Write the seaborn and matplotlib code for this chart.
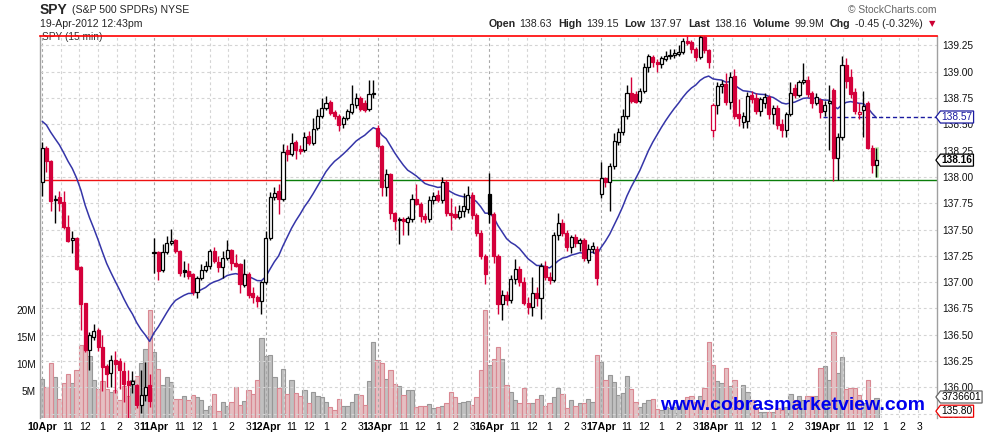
import numpy as np
import pandas as pd
import matplotlib
matplotlib.use("Agg")
import matplotlib.pyplot as plt
import seaborn as sns
from matplotlib.path import Path
from matplotlib.transforms import blended_transform_factory

# ---------------- data ----------------
day_names = ["10Apr", "11Apr", "12Apr", "13Apr", "16Apr", "17Apr", "18Apr", "19Apr"]
hour_labels = ["11", "12", "1", "2", "3"]
hour_bar_offsets = [6, 10, 14, 18, 22]
bars_per_day = 26

prior_close = 137.90      # close of the bar before the window (colours the first bar)
ema_seed = 138.556        # moving-average level entering the window
ma_span = 20

# [open, high, low, close] per 15-min bar
apr10_ohlc = [
    [137.95, 138.33, 137.82, 138.28], [138.28, 138.29, 138.05, 138.15], [138.15, 138.16, 137.68, 137.77],
    [137.78, 137.83, 137.56, 137.79], [137.81, 137.87, 137.68, 137.75], [137.76, 137.87, 137.51, 137.52],
    [137.52, 137.64, 137.38, 137.39], [137.40, 137.49, 137.28, 137.42], [137.42, 137.43, 137.12, 137.13],
    [137.14, 137.15, 136.55, 136.79], [136.80, 136.80, 136.34, 136.36], [136.36, 136.53, 136.17, 136.50],
    [136.48, 136.60, 136.45, 136.54], [136.55, 136.56, 136.35, 136.38], [136.38, 136.50, 135.97, 136.19],
    [136.20, 136.22, 136.00, 136.13], [136.14, 136.31, 136.00, 136.26], [136.26, 136.35, 135.95, 136.22],
    [136.25, 136.28, 135.98, 136.17], [136.16, 136.24, 135.86, 136.03], [136.06, 136.17, 135.71, 136.02],
    [136.03, 136.16, 135.95, 136.06], [136.02, 136.03, 135.80, 135.83], [135.83, 136.17, 135.76, 135.93],
    [135.93, 136.24, 135.87, 136.00], [136.02, 136.13, 135.81, 135.87]]
apr11_ohlc = [
    [137.28, 137.42, 137.09, 137.29], [137.29, 137.30, 137.02, 137.11], [137.12, 137.36, 137.10, 137.29],
    [137.29, 137.44, 137.27, 137.37], [137.37, 137.51, 137.35, 137.39], [137.40, 137.41, 137.28, 137.30],
    [137.30, 137.31, 137.06, 137.09], [137.12, 137.20, 137.05, 137.10], [137.11, 137.18, 137.03, 137.06],
    [137.08, 137.09, 136.88, 136.91], [136.91, 137.06, 136.85, 137.04], [137.04, 137.17, 137.02, 137.12],
    [137.12, 137.20, 137.10, 137.15], [137.15, 137.32, 137.13, 137.30], [137.30, 137.33, 137.18, 137.20],
    [137.19, 137.25, 137.10, 137.14], [137.14, 137.30, 137.04, 137.23], [137.23, 137.40, 137.21, 137.31],
    [137.31, 137.32, 137.12, 137.18], [137.18, 137.27, 137.14, 137.15], [137.17, 137.18, 136.90, 136.98],
    [136.97, 137.22, 136.95, 137.08], [137.08, 137.10, 136.85, 136.88], [136.90, 136.95, 136.80, 136.86],
    [136.86, 136.88, 136.76, 136.82], [136.82, 137.01, 136.70, 137.00]]
apr12_ohlc = [
    [137.00, 137.49, 136.98, 137.42], [137.42, 137.86, 137.40, 137.81], [137.81, 137.90, 137.78, 137.85],
    [137.87, 137.93, 137.65, 137.79], [137.79, 138.31, 137.77, 138.24], [138.26, 138.30, 138.15, 138.22],
    [138.22, 138.42, 138.20, 138.32], [138.33, 138.35, 138.17, 138.26], [138.27, 138.30, 138.22, 138.25],
    [138.26, 138.43, 138.24, 138.38], [138.39, 138.44, 138.30, 138.32], [138.32, 138.56, 138.30, 138.46],
    [138.47, 138.65, 138.45, 138.58], [138.58, 138.75, 138.56, 138.66], [138.66, 138.77, 138.64, 138.70],
    [138.71, 138.73, 138.59, 138.61], [138.62, 138.64, 138.55, 138.58], [138.58, 138.60, 138.44, 138.49],
    [138.50, 138.58, 138.47, 138.56], [138.56, 138.65, 138.54, 138.63], [138.62, 138.87, 138.60, 138.69],
    [138.68, 138.80, 138.66, 138.75], [138.75, 138.77, 138.63, 138.65], [138.70, 138.73, 138.62, 138.64],
    [138.65, 138.92, 138.63, 138.79], [138.79, 138.92, 138.75, 138.80]]
apr13_ohlc = [
    [138.47, 138.49, 138.28, 138.29], [138.29, 138.30, 137.82, 137.90], [137.90, 138.08, 137.82, 138.03],
    [138.03, 138.04, 137.60, 137.66], [137.66, 137.67, 137.50, 137.58], [137.59, 137.62, 137.36, 137.60],
    [137.60, 137.62, 137.45, 137.58], [137.57, 137.63, 137.45, 137.61], [137.60, 137.84, 137.57, 137.79],
    [137.79, 137.93, 137.73, 137.74], [137.74, 137.76, 137.57, 137.63], [137.63, 137.66, 137.56, 137.60],
    [137.60, 137.82, 137.57, 137.78], [137.78, 137.86, 137.74, 137.82], [137.83, 137.88, 137.76, 137.78],
    [137.78, 138.00, 137.75, 137.95], [137.95, 137.97, 137.63, 137.66], [137.66, 137.80, 137.50, 137.64],
    [137.65, 137.72, 137.60, 137.62], [137.62, 137.73, 137.60, 137.68], [137.68, 137.85, 137.62, 137.72],
    [137.70, 137.91, 137.66, 137.83], [137.83, 137.86, 137.60, 137.64], [137.64, 137.66, 137.44, 137.47],
    [137.47, 137.50, 137.22, 137.25], [137.25, 137.27, 136.98, 137.08]]
apr16_ohlc = [
    [137.84, 138.04, 137.56, 137.65], [137.65, 137.67, 137.18, 137.25], [137.25, 137.27, 136.70, 136.79],
    [136.79, 136.93, 136.64, 136.88], [136.88, 136.92, 136.78, 136.83], [136.83, 137.07, 136.80, 137.03],
    [137.03, 137.22, 136.98, 137.13], [137.13, 137.15, 136.96, 137.00], [137.00, 137.05, 136.78, 136.80],
    [136.80, 136.86, 136.70, 136.76], [136.76, 137.05, 136.68, 136.90], [136.90, 136.95, 136.77, 136.85],
    [136.85, 137.18, 136.65, 137.15], [137.15, 137.20, 137.02, 137.05], [137.05, 137.10, 136.98, 137.02],
    [137.02, 137.48, 137.00, 137.45], [137.45, 137.66, 137.40, 137.56], [137.56, 137.60, 137.44, 137.47],
    [137.47, 137.50, 137.30, 137.33], [137.33, 137.45, 137.28, 137.43], [137.43, 137.46, 137.33, 137.37],
    [137.37, 137.42, 137.30, 137.40], [137.40, 137.42, 137.20, 137.23], [137.21, 137.36, 137.18, 137.32],
    [137.32, 137.38, 137.28, 137.34], [137.32, 137.34, 136.97, 137.04]]
apr17_ohlc = [
    [137.84, 138.14, 137.80, 137.99], [137.99, 138.00, 137.90, 137.95], [137.95, 138.13, 137.68, 138.10],
    [138.10, 138.42, 138.08, 138.34], [138.33, 138.47, 138.30, 138.43], [138.43, 138.65, 138.40, 138.58],
    [138.58, 138.87, 138.55, 138.80], [138.80, 138.95, 138.70, 138.72], [138.79, 138.82, 138.70, 138.71],
    [138.72, 138.85, 138.70, 138.82], [138.82, 139.08, 138.80, 139.05], [139.05, 139.17, 139.00, 139.15],
    [139.14, 139.16, 139.05, 139.09], [139.09, 139.12, 139.00, 139.07], [139.07, 139.15, 139.04, 139.13],
    [139.12, 139.20, 139.10, 139.15], [139.15, 139.22, 139.12, 139.16], [139.16, 139.22, 139.13, 139.18],
    [139.17, 139.25, 139.15, 139.19], [139.19, 139.32, 139.17, 139.29], [139.29, 139.34, 139.25, 139.27],
    [139.28, 139.30, 139.18, 139.22], [139.22, 139.24, 139.10, 139.14], [139.14, 139.34, 139.12, 139.33],
    [139.33, 139.34, 139.18, 139.21], [139.21, 139.22, 139.04, 139.09]]
apr18_ohlc = [
    [138.45, 138.70, 138.38, 138.68], [138.68, 138.90, 138.60, 138.86], [138.86, 138.92, 138.80, 138.88],
    [138.88, 138.99, 138.68, 138.71], [138.71, 139.00, 138.65, 138.95], [138.96, 139.03, 138.55, 138.58],
    [138.60, 138.74, 138.48, 138.56], [138.52, 138.62, 138.47, 138.58], [138.53, 138.81, 138.47, 138.77],
    [138.78, 138.82, 138.70, 138.74], [138.75, 138.80, 138.60, 138.63], [138.63, 138.76, 138.58, 138.74],
    [138.70, 138.80, 138.66, 138.76], [138.76, 138.78, 138.55, 138.60], [138.60, 138.68, 138.50, 138.66],
    [138.66, 138.68, 138.46, 138.49], [138.50, 138.55, 138.38, 138.45], [138.45, 138.62, 138.38, 138.60],
    [138.60, 138.90, 138.58, 138.80], [138.85, 138.88, 138.75, 138.78], [138.78, 138.92, 138.76, 138.90],
    [138.90, 139.08, 138.88, 138.92], [138.92, 138.96, 138.76, 138.79], [138.80, 138.82, 138.66, 138.70],
    [138.70, 138.80, 138.68, 138.76], [138.73, 138.75, 138.56, 138.62]]
apr19_ohlc = [
    [138.63, 138.72, 138.58, 138.68], [138.70, 138.87, 138.26, 138.72], [138.83, 138.85, 137.96, 138.18],
    [138.18, 138.42, 137.97, 138.38], [138.38, 139.15, 138.35, 139.06], [139.06, 139.13, 138.85, 138.91],
    [138.95, 139.03, 138.75, 138.79], [138.81, 138.85, 138.60, 138.63], [138.60, 138.70, 138.55, 138.62],
    [138.64, 138.82, 138.38, 138.67], [138.70, 138.72, 138.27, 138.28], [138.28, 138.30, 138.04, 138.11],
    [138.11, 138.28, 138.00, 138.16]]

# volume per bar, millions of shares
apr10_vol = [7.2, 5.7, 10.1, 7.5, 3.5, 6.4, 8.1, 6.4, 8.9, 13.5, 13.5, 11.5, 7.0, 5.3, 6.9, 5.3, 4.9, 5.2,
             3.3, 5.9, 4.0, 7.0, 7.8, 10.1, 12.7, 20.0]
apr11_vol = [12.3, 9.0, 6.1, 7.5, 6.7, 3.5, 3.6, 4.1, 3.3, 4.3, 3.8, 3.3, 1.5, 2.2, 4.4, 1.3, 3.0, 2.2,
             3.0, 5.7, 2.4, 3.2, 5.1, 4.4, 7.0, 14.8]
apr12_vol = [11.5, 11.7, 7.5, 5.5, 9.0, 4.4, 7.0, 4.7, 4.1, 5.1, 2.7, 4.9, 4.1, 3.8, 3.0, 2.0, 1.5, 3.5,
             2.2, 2.2, 3.0, 4.4, 4.3, 2.4, 6.9, 14.0]
apr13_vol = [10.7, 10.2, 7.3, 8.8, 6.3, 5.9, 4.3, 5.2, 5.2, 2.1, 2.3, 2.2, 2.5, 1.8, 2.1, 2.2, 2.7, 4.9,
             3.8, 2.7, 3.0, 3.1, 2.4, 3.8, 8.9, 20.0]
apr16_vol = [9.8, 11.0, 13.2, 10.9, 6.1, 4.9, 3.3, 2.7, 5.5, 2.7, 2.8, 3.5, 4.3, 2.2, 2.7, 3.8, 5.5, 4.4,
             1.8, 3.3, 2.2, 2.8, 2.8, 3.6, 3.0, 11.7]
apr17_vol = [10.4, 7.0, 8.0, 6.7, 4.3, 4.6, 7.7, 5.3, 3.0, 2.1, 2.8, 3.3, 3.5, 1.6, 1.5, 2.1, 1.8, 2.1,
             2.2, 3.3, 3.8, 4.1, 3.0, 4.1, 5.5, 14.0]
apr18_vol = [9.8, 6.9, 6.5, 9.2, 5.9, 7.0, 3.3, 6.1, 4.9, 3.3, 2.1, 1.2, 1.2, 1.1, 1.2, 1.8, 1.5, 2.1,
             4.4, 3.3, 4.0, 3.3, 4.0, 4.1, 4.1, 9.2]
apr19_vol = [9.6, 7.0, 16.0, 8.3, 11.2, 5.3, 5.5, 5.5, 4.3, 2.7, 7.0, 3.3, 3.736601]

ma_tag_value = 138.57                    # value printed in the MA tag / dashed line
level_line = 137.97                      # horizontal line (red / green segments)
level_breaks = [0.2, 55.5, 88.0, 132.0]  # bar positions where its colour flips
extra_tag_value = 135.80

header_symbol = "SPY"
header_name = "(S&P 500 SPDRs) NYSE"
header_time = "19-Apr-2012 12:43pm"
header_stats = [("Open", "138.63"), ("High", "139.15"), ("Low", "137.97"), ("Last", "138.16"),
                ("Volume", "99.9M"), ("Chg", "-0.45 (-0.32%)")]

# ---------------- assemble ----------------
day_ohlc = [apr10_ohlc, apr11_ohlc, apr12_ohlc, apr13_ohlc, apr16_ohlc, apr17_ohlc, apr18_ohlc, apr19_ohlc]
day_vol = [apr10_vol, apr11_vol, apr12_vol, apr13_vol, apr16_vol, apr17_vol, apr18_vol, apr19_vol]
rows = []
for d, (ohlc, vols) in enumerate(zip(day_ohlc, day_vol)):
    for k, ((o, h, l, c), v) in enumerate(zip(ohlc, vols)):
        rows.append(dict(slot=d * bars_per_day + k, open=o, high=h, low=l, close=c, volume=v * 1e6))
df = pd.DataFrame(rows)
df["prev"] = [prior_close] + df["close"].tolist()[:-1]
df["dir"] = np.where(df["close"] >= df["prev"], "up", "down")
ema = pd.Series([ema_seed] + df["close"].tolist()).ewm(span=ma_span, adjust=False).mean()
df["ma"] = ema.iloc[1:].values

RED = "#d4003a"
BLACK = "#000000"
NAVY = "#3535a8"

# ---------------- figure ----------------
sns.set_theme(style="white")
plt.rcParams["font.family"] = ["Liberation Sans", "DejaVu Sans"]
W, H = 990, 438
fig = plt.figure(figsize=(W / 100, H / 100), dpi=100)
L_PX, R_PX, T_PX, B_PX = 40, 937, 36, 418
ax_p = fig.add_axes([L_PX / W, 1 - B_PX / H, (R_PX - L_PX) / W, (B_PX - T_PX) / H])
ax_v = ax_p.twinx()
ax_v.set_zorder(0)
ax_p.set_zorder(1)
ax_p.patch.set_visible(False)

x_left, x_right = -0.5, 208.1
y_low, y_high = 135.709, 139.340

# volume bars (seaborn)
sns.barplot(data=df, x="slot", y="volume", hue="dir", native_scale=True, width=1.0, dodge=False,
            palette={"up": "#c0c0c0", "down": "#ecb8bd"}, errorbar=None, legend=False,
            linewidth=0.8, ax=ax_v)
for p in ax_v.patches:
    fc = p.get_facecolor()
    p.set_edgecolor("#979797" if abs(fc[0] - fc[1]) < 0.05 else "#d98892")
ax_v.set_ylim(0, 70.7e6)
ax_v.set_yticks([5e6, 10e6, 15e6, 20e6])
ax_v.set_yticklabels(["5M", "10M", "15M", "20M"])
ax_v.yaxis.tick_left()
ax_v.tick_params(axis="y", length=0, pad=3, labelsize=7.3, colors="#111")
ax_v.set_xlabel("")
ax_v.set_ylabel("")
for s in ax_v.spines.values():
    s.set_visible(False)

# grid
ax_p.set_xlim(x_left, x_right)
ax_p.set_ylim(y_low, y_high)
ax_v.set_xlim(x_left, x_right)
for d in range(len(day_names)):
    for k in range(6):
        xg = d * bars_per_day + k * bars_per_day / 6
        ax_p.axvline(xg, color="#a8a8a8" if k == 0 else "#d4d4d4", lw=0.8,
                     ls=(0, (2.5, 2.5)), zorder=0.5)
for yg in np.arange(135.75, 139.30, 0.25):
    ax_p.axhline(yg, color="#d4d4d4", lw=0.8, ls=(0, (2.5, 2.5)), zorder=0.5)

# level line with colour segments
seg_edges = [x_left] + level_breaks + [x_right]
for i in range(len(seg_edges) - 1):
    ax_p.hlines(level_line, seg_edges[i], seg_edges[i + 1],
                colors="#0a7d0a" if i % 2 == 0 else "#ee1111", lw=1.0, zorder=1)

# moving average (seaborn)
sns.lineplot(data=df, x="slot", y="ma", color=NAVY, lw=1.1, ax=ax_p, zorder=2)
ax_p.hlines(ma_tag_value, 181.5, x_right, colors="#1a1aa0", lw=1.0, linestyles=(0, (3, 2)), zorder=2)

# highlight of the latest bar
last = df.iloc[-1]
ax_p.bar(last["slot"], last["high"] - last["low"] + 0.02, bottom=last["low"] - 0.01, width=1.1,
         color="#b4f0a8", zorder=2.5)

# candlesticks
cols = np.where(df["dir"] == "up", BLACK, RED)
ax_p.vlines(df["slot"], df["low"], df["high"], colors=cols, lw=1.0, zorder=3)
body_lo = np.minimum(df["open"], df["close"])
body_h = np.maximum(np.abs(df["close"] - df["open"]), 0.008)
faces = [c if cl < o else "white" for c, cl, o in zip(cols, df["close"], df["open"])]
ax_p.bar(df["slot"], body_h, bottom=body_lo, width=0.72, color=faces, edgecolor=cols,
         linewidth=0.9, zorder=4)

ax_p.set_xlabel("")
ax_p.set_ylabel("")

# axes styling
ax_p.yaxis.tick_right()
ax_p.set_yticks(np.arange(135.75, 139.30, 0.25))
ax_p.set_yticklabels([f"{v:.2f}" for v in np.arange(135.75, 139.30, 0.25)])
ax_p.tick_params(axis="y", length=0, pad=4, labelsize=7.3, colors="#111")
xt, xl = [], []
for d, name in enumerate(day_names):
    xt.append(d * bars_per_day)
    xl.append(name)
    for off, lab in zip(hour_bar_offsets, hour_labels):
        xt.append(d * bars_per_day + off)
        xl.append(lab)
ax_p.set_xticks(xt)
ax_p.set_xticklabels(xl)
ax_p.tick_params(axis="x", length=0, pad=3, labelsize=7.5, colors="#000")
for t in ax_p.get_xticklabels():
    if t.get_text() in day_names:
        t.set_fontweight("bold")
        t.set_fontsize(7.6)
for side in ["left", "right"]:
    ax_p.spines[side].set_color("#a0a0a0")
    ax_p.spines[side].set_linewidth(1.0)
ax_p.spines["top"].set_color("#ff0000")
ax_p.spines["top"].set_linewidth(1.2)
ax_p.spines["bottom"].set_visible(False)

# in-panel label
fig.text((L_PX + 2) / W, 1 - (T_PX + 1) / H, "SPY (15 min)", fontsize=7.3, color="#333",
         va="center", ha="left", zorder=0)


# value tags on the right: box with a pointed left side
def tag_box(x0, y0, width, height, mutation_size):
    pad = mutation_size * 0.1
    x0, y0 = x0 - pad, y0 - pad
    w, h = width + 2 * pad, height + 2 * pad
    tip = 0.38 * h
    verts = [(x0, y0), (x0 + w, y0), (x0 + w, y0 + h), (x0, y0 + h), (x0 - tip, y0 + h / 2), (x0, y0),
             (x0, y0)]
    return Path(verts, closed=True)


def tag(value, text, ytrans, ec, color, weight="normal", dy=0):
    ax_p.annotate(text, xy=(1, value), xycoords=blended_transform_factory(ax_p.transAxes, ytrans),
                  xytext=(3.2, dy), textcoords="offset points", ha="left", va="center",
                  fontsize=7.3, color=color, fontweight=weight, annotation_clip=False,
                  bbox=dict(boxstyle=tag_box, fc="white", ec=ec, lw=0.9), zorder=30)


tag(ma_tag_value, f"{ma_tag_value:.2f}", ax_p.transData, "#1a1aa0", "#1a1aa0")
tag(last["close"], f"{last['close']:.2f}", ax_p.transData, BLACK, BLACK, "bold")
tag(last["volume"], f"{int(round(last['volume']))}", ax_v.transData, "#666666", BLACK, dy=0.6)
tag(extra_tag_value, f"{extra_tag_value:.2f}", ax_p.transData, "#ee0000", BLACK, dy=-2.0)

# watermark
ax_p.text(0.987, 0.032, "www.cobrasmarketview.com", transform=ax_p.transAxes, ha="right",
          va="center", fontsize=14.0, fontweight="bold", color="#0000ee", zorder=40)

# header
renderer = fig.canvas.get_renderer()


def place(parts, x_px, y_px, align="left"):
    items = []
    for s, kw, gap in parts:
        t = fig.text(0, 1 - y_px / H, s, va="center", ha="left", **kw)
        items.append((t, t.get_window_extent(renderer).width, gap))
    total = sum(w + g for _, w, g in items) - items[-1][2]
    x = x_px - total if align == "right" else x_px
    for t, w, g in items:
        t.set_x(x / W)
        x += w + g


place([(header_symbol, dict(fontsize=10, fontweight="bold"), 4),
       (header_name, dict(fontsize=7.6), 0)], 40, 10)
place([(header_time, dict(fontsize=7.6), 0)], 40, 24)
stat_parts = []
for lab, val in header_stats:
    stat_parts.append((lab, dict(fontsize=7.7, fontweight="bold"), 4))
    stat_parts.append((val, dict(fontsize=7.7), 6))
stat_parts.append(("\u25BC", dict(fontsize=6, color="#cc0033", family=["DejaVu Sans"]), 0))
place(stat_parts, 935, 24, align="right")
place([("\u00A9 StockCharts.com", dict(fontsize=7.4, color="#666"), 0)], 937, 10, align="right")

fig.savefig("out.png", dpi=100, facecolor="white")
